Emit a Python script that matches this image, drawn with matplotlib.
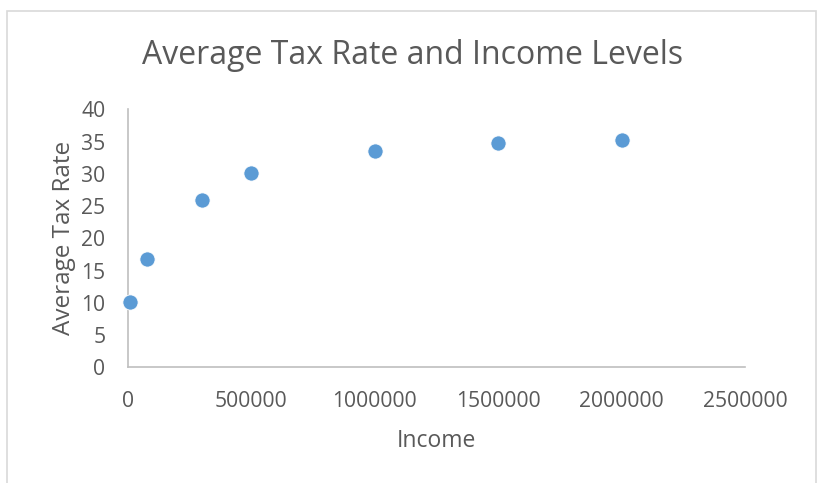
import matplotlib
matplotlib.use("Agg")
import matplotlib.pyplot as plt
from matplotlib.patches import Rectangle

# Income levels and the average tax rate paid at each
income = [10000, 80000, 300000, 500000, 1000000, 1500000, 2000000]
avg_tax_rate = [10.1, 16.8, 25.9, 30.1, 33.6, 34.7, 35.3]

x_ticks = [0, 500000, 1000000, 1500000, 2000000, 2500000]
y_ticks = [0, 5, 10, 15, 20, 25, 30, 35, 40]

text_color = "#595959"
plt.rcParams["font.family"] = ["Open Sans", "DejaVu Sans"]

fig = plt.figure(figsize=(8.17, 4.83), dpi=100)
ax = fig.add_axes([0.1563, 0.2395, 0.7557, 0.5342])

# chart area border
fig.patches.append(Rectangle((7 / 817, -0.1), 809 / 817, 1.1 - 10.5 / 483,
                             transform=fig.transFigure, fill=False,
                             edgecolor="#D9D9D9", linewidth=1.2))

ax.scatter(income, avg_tax_rate, s=120, color="#5B9BD5",
           edgecolors="white", linewidths=0.6, zorder=3, clip_on=False)

ax.set_xlim(0, 2500000)
ax.set_ylim(0, 40)
ax.set_xticks(x_ticks)
ax.set_xticklabels([str(t) for t in x_ticks])
ax.set_yticks(y_ticks)
ax.set_yticklabels([str(t) for t in y_ticks])

for side in ["top", "right"]:
    ax.spines[side].set_visible(False)
for side in ["left", "bottom"]:
    ax.spines[side].set_color("#BFBFBF")
    ax.spines[side].set_linewidth(1.2)

ax.tick_params(length=0, labelsize=15.2, colors=text_color)
ax.tick_params(axis="x", pad=17)
ax.tick_params(axis="y", pad=16)

fig.text(413 / 817, 1 - 55 / 483, "Average Tax Rate and Income Levels",
         fontsize=23, color=text_color, ha="center", va="center")
ax.set_xlabel("Income", fontsize=16.5, color=text_color, labelpad=12)
ax.set_ylabel("Average Tax Rate", fontsize=17.5, color=text_color, labelpad=4)

fig.savefig("out.png", dpi=100, facecolor="white")
